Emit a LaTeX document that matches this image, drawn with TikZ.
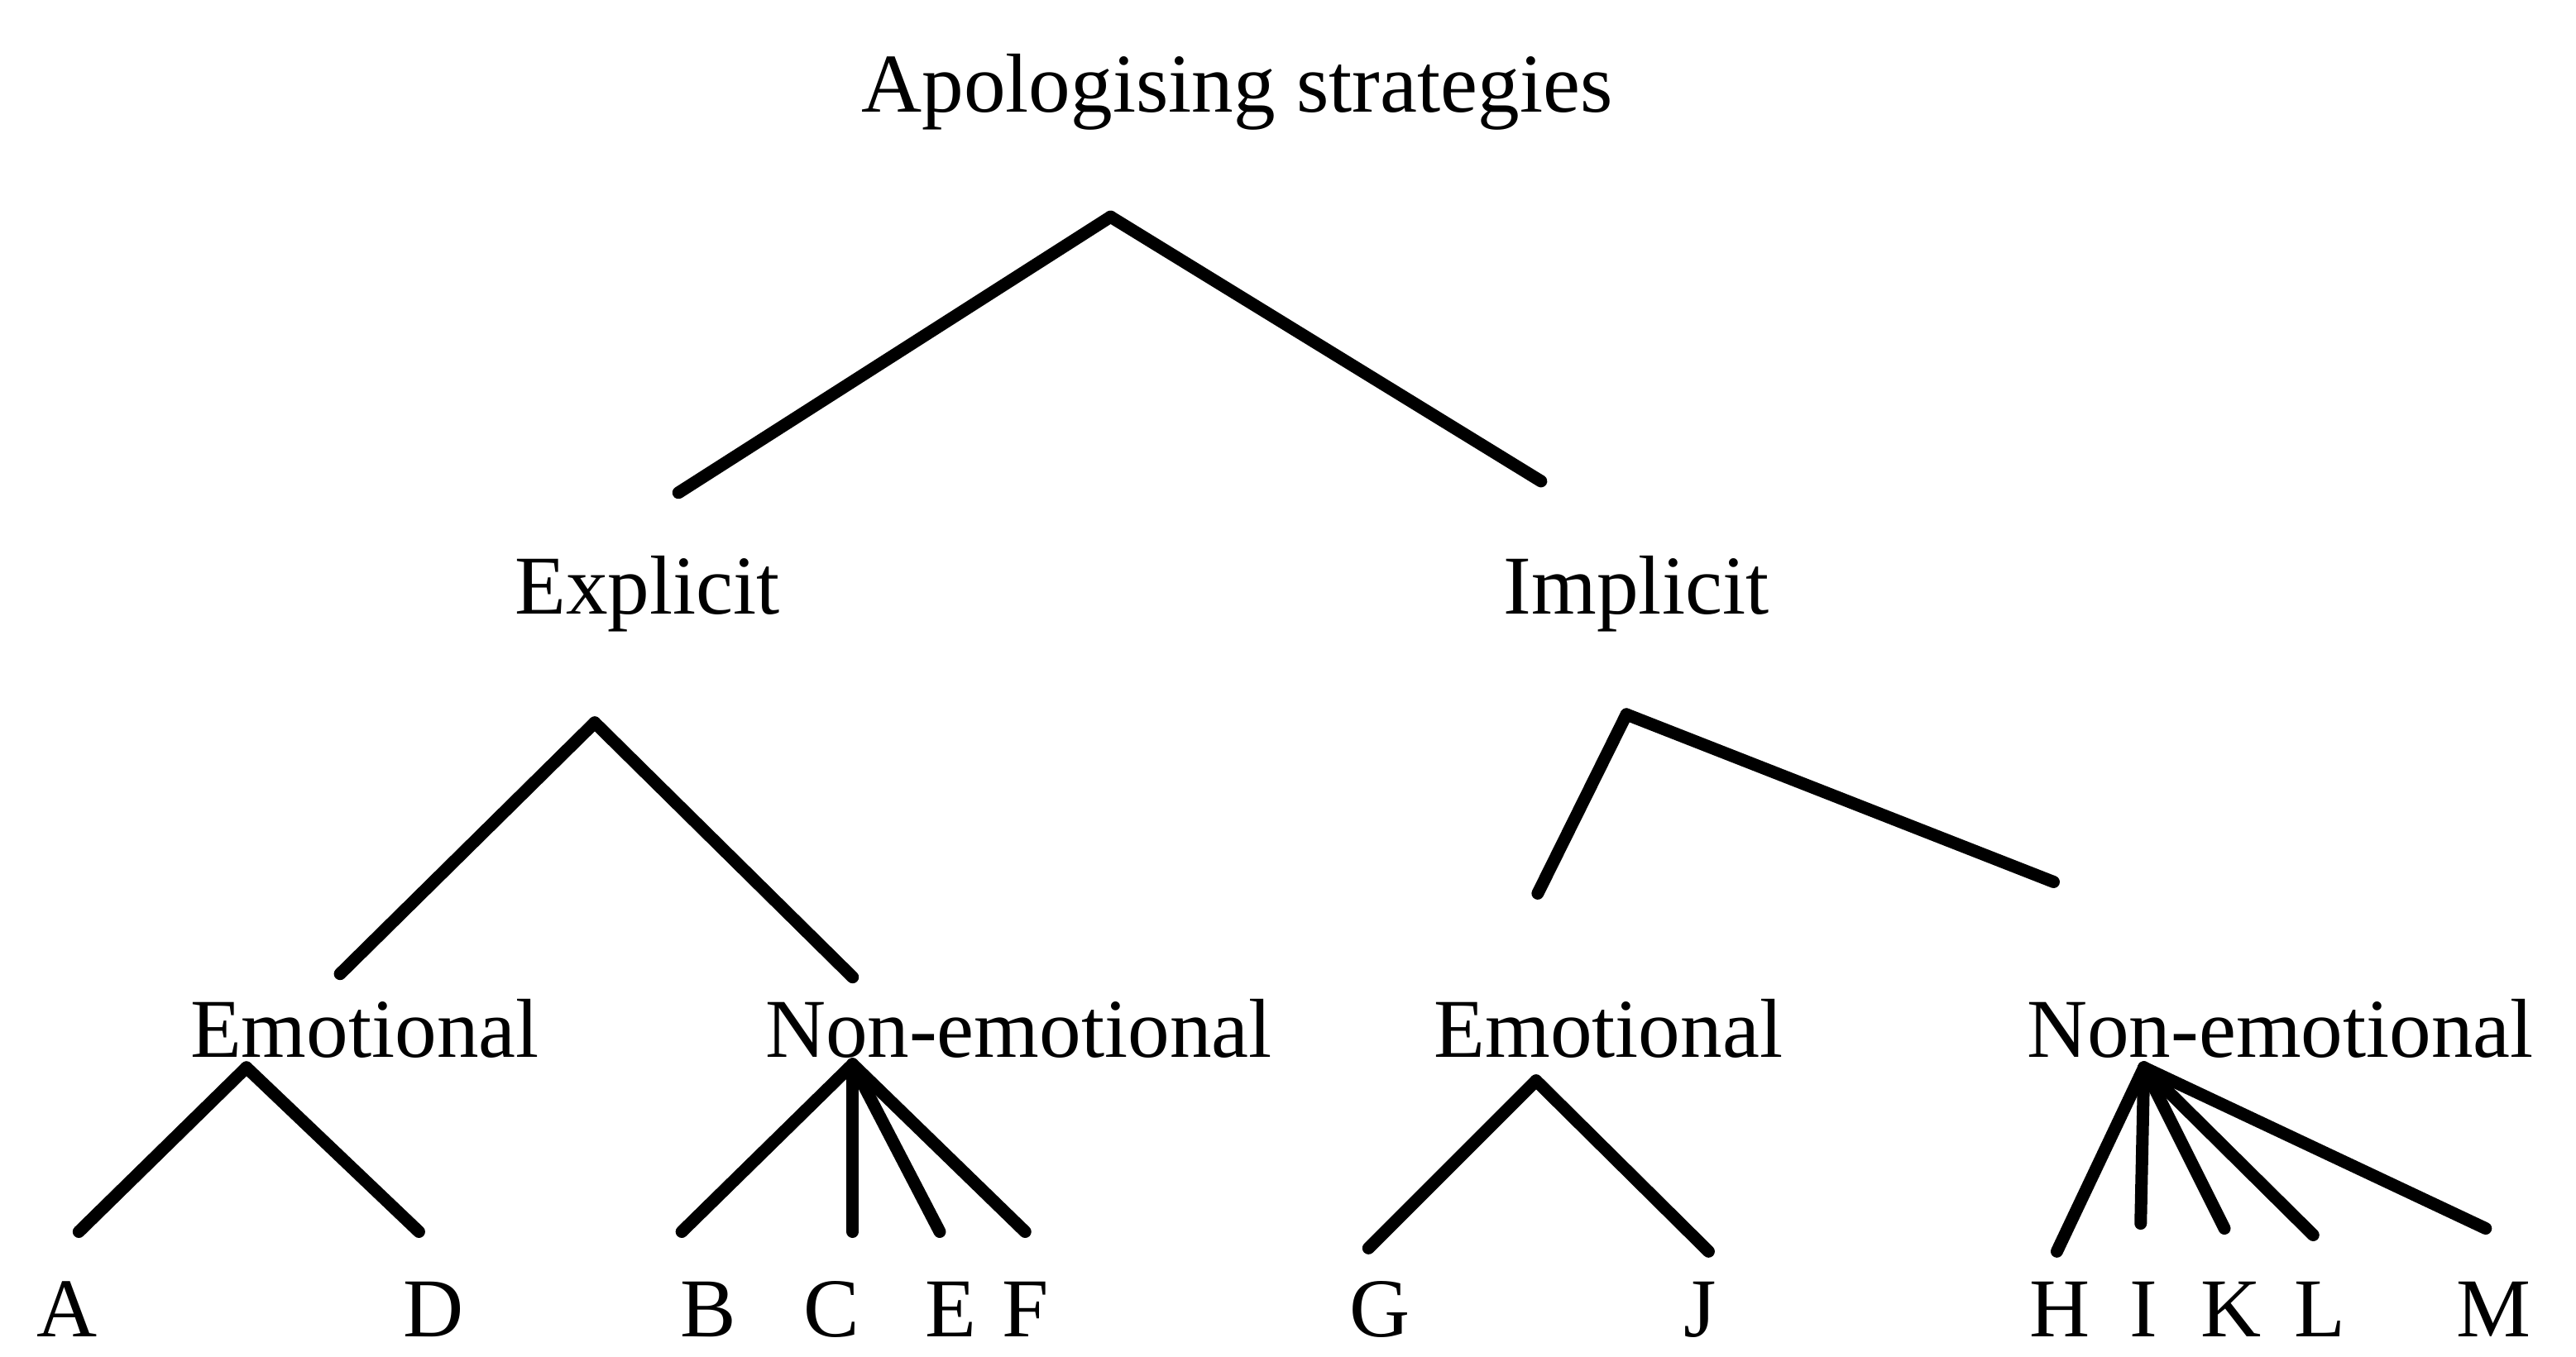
\documentclass[tikz,border=0pt]{standalone}
\usepackage{fontspec}
\setmainfont{Liberation Serif}
\tikzset{
  lbl/.style={inner sep=0pt, anchor=base, font=\fontsize{29}{30}\selectfont},
  leg/.style={line width=4.3pt, line cap=round, line join=round}
}
\newcommand{\fork}[2]{
\draw[leg] (#1)--(#2);
}

\begin{document}
\begin{tikzpicture}[x=0.02cm, y=-0.02cm]
\useasboundingbox (0,0) rectangle (1568,826);

% labels
\node[lbl] (title) at (753,68) {Apologising strategies};

\node[lbl] (expl) at (394,374) {Explicit};
\node[lbl] (impl) at (996,374) {Implicit};

\node[lbl] (exemo) at (222,644) {Emotional};
\node[lbl] (exnon) at (620,644) {Non-emotional};
\node[lbl] (imemo) at (979,644) {Emotional};
\node[lbl] (imnon) at (1388,644) {Non-emotional};

\node[lbl] (lA) at (41,814) {A};
\node[lbl] (lD) at (264,814) {D};
\node[lbl] (lB) at (431,814) {B};
\node[lbl] (lC) at (506,814) {C};
\node[lbl] (lE) at (579,814) {E};
\node[lbl] (lF) at (624,814) {F};
\node[lbl] (lG) at (840,814) {G};
\node[lbl] (lJ) at (1035,814) {J};
\node[lbl] (lH) at (1254,814) {H};
\node[lbl] (lI) at (1305,814) {I};
\node[lbl] (lK) at (1358,814) {K};
\node[lbl] (lL) at (1412,814) {L};
\node[lbl] (lM) at (1518,814) {M};

% apexes and leg ends
\coordinate (tv) at (676,132);
\coordinate (t1) at (413,300);
\coordinate (t2) at (938,293);

\coordinate (ev) at (362,440);
\coordinate (e1) at (207,593);
\coordinate (e2) at (519,595);

\coordinate (iv) at (990,435);
\coordinate (i1) at (936,544);
\coordinate (i2) at (1250,537);

\coordinate (eev) at (150,650);
\coordinate (eeA) at (48,750);
\coordinate (eeD) at (255,750);

\coordinate (env) at (519,648);
\coordinate (enB) at (415,750);
\coordinate (enC) at (519,750);
\coordinate (enE) at (572,750);
\coordinate (enF) at (624,750);

\coordinate (iev) at (935,658);
\coordinate (ieG) at (833,760);
\coordinate (ieJ) at (1040,762);

\coordinate (inv) at (1305,650);
\coordinate (inH) at (1252,762);
\coordinate (inI) at (1303,745);
\coordinate (inK) at (1354,748);
\coordinate (inL) at (1408,752);
\coordinate (inM) at (1513,748);

% branches
\fork{tv}{t1}
\fork{tv}{t2}

\fork{ev}{e1}
\fork{ev}{e2}

\fork{iv}{i1}
\fork{iv}{i2}

\fork{eev}{eeA}
\fork{eev}{eeD}

\fork{env}{enB}
\fork{env}{enC}
\fork{env}{enE}
\fork{env}{enF}

\fork{iev}{ieG}
\fork{iev}{ieJ}

\fork{inv}{inH}
\fork{inv}{inI}
\fork{inv}{inK}
\fork{inv}{inL}
\fork{inv}{inM}

\end{tikzpicture}
\end{document}
